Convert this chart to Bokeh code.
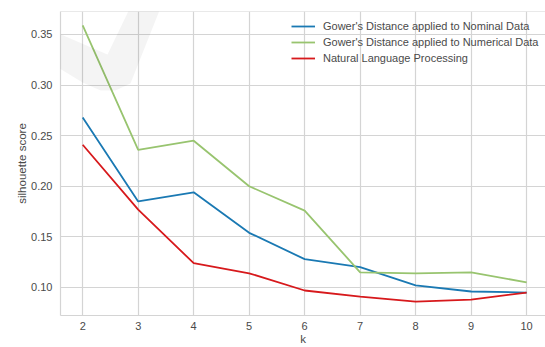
from bokeh.plotting import figure
from bokeh.models import (Range1d, FixedTicker, PrintfTickFormatter, Legend, LegendItem,
                          Span, PolyAnnotation)
from bokeh.embed import file_html
from bokeh.resources import INLINE

# ---- data ----
k = [2, 3, 4, 5, 6, 7, 8, 9, 10]
nominal = [0.268, 0.185, 0.194, 0.154, 0.128, 0.120, 0.102, 0.096, 0.095]
numerical = [0.359, 0.236, 0.245, 0.200, 0.176, 0.115, 0.114, 0.115, 0.105]
nlp = [0.241, 0.177, 0.124, 0.114, 0.097, 0.091, 0.086, 0.088, 0.095]
series_names = ["Gower's Distance applied to Nominal Data",
                "Gower's Distance applied to Numerical Data",
                "Natural Language Processing"]
colors = ["#1a79b3", "#98c46f", "#d7191c"]
y_ticks = [0.10, 0.15, 0.20, 0.25, 0.30, 0.35]
x_ticks = [2, 3, 4, 5, 6, 7, 8, 9, 10]

# faint watermark shape (canvas pixels)
wm_x = [0, 107, 133, 163, 130, 115, 100, 82, 0]
wm_y = [8, 54, 0, 0, 83, 90, 90, 82, 32]

FONT = "Liberation Sans"
GRID = "#d4d4d4"
TEXT = "#4a4a4a"

p = figure(width=545, height=347, output_backend="svg", toolbar_location=None,
           x_range=Range1d(1.6, 10.34), y_range=Range1d(0.0723, 0.3727),
           min_border_top=11, min_border_right=0, min_border_left=60,
           min_border_bottom=32,
           background_fill_color="white", border_fill_color="white")
p.outline_line_color = None

for ax in (p.xaxis[0], p.yaxis[0]):
    ax.axis_line_color = GRID
    ax.axis_line_width = 1.2
    ax.major_tick_line_color = None
    ax.minor_tick_line_color = None
    ax.major_tick_out = 0
    ax.major_tick_in = 0
    ax.minor_tick_out = 0
    ax.major_label_text_font = FONT
    ax.major_label_text_font_size = "11px"
    ax.major_label_text_color = TEXT
    ax.axis_label_text_font = FONT
    ax.axis_label_text_font_size = "11.5px"
    ax.axis_label_text_font_style = "normal"
    ax.axis_label_text_color = TEXT

p.xaxis.ticker = FixedTicker(ticks=x_ticks)
p.yaxis.ticker = FixedTicker(ticks=y_ticks)
p.yaxis.formatter = PrintfTickFormatter(format="%.2f")
p.xaxis.axis_label = "k"
p.yaxis.axis_label = "silhouette score"
p.xaxis.major_label_standoff = 6
p.xaxis.axis_label_standoff = 0
p.yaxis.major_label_standoff = 8
p.yaxis.axis_label_standoff = 0

p.xgrid.grid_line_color = GRID
p.ygrid.grid_line_color = GRID
p.xgrid.grid_line_width = 1.2
p.ygrid.grid_line_width = 1.2

p.add_layout(Span(location=p.y_range.end, dimension="width",
                  line_color=GRID, line_width=1.2))

renderers = []
for ys, c in zip([nominal, numerical, nlp], colors):
    renderers.append(p.line(k, ys, line_color=c, line_width=1.8))

legend = Legend(items=[LegendItem(label=n, renderers=[r]) for n, r in zip(series_names, renderers)],
                location=(231, 249))
legend.background_fill_alpha = 0
legend.border_line_color = None
legend.label_text_font = FONT
legend.label_text_font_size = "11px"
legend.label_text_color = TEXT
legend.glyph_width = 24
legend.glyph_height = 16
legend.label_height = 16
legend.spacing = 0
legend.padding = 6
legend.margin = 0
legend.label_standoff = 8
p.add_layout(legend)

p.add_layout(PolyAnnotation(xs=wm_x, ys=wm_y, xs_units="canvas", ys_units="canvas",
                            fill_color="#000000", fill_alpha=0.045, line_color=None,
                            level="overlay"))

open("out.html", "w").write(file_html(p, INLINE))
